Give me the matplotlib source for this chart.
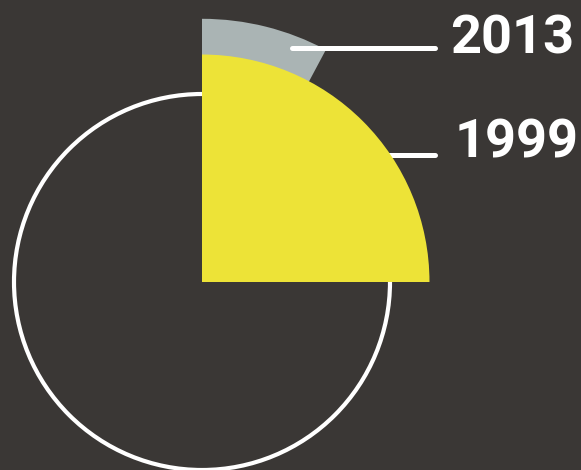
import matplotlib
matplotlib.use("Agg")
import matplotlib.pyplot as plt
from matplotlib.patches import Wedge, Circle

# ---- data -------------------------------------------------
years = ["2013", "1999"]
share_pct = [7.8, 25.0]        # angular share of the full circle
radius = [1.40, 1.21]          # relative to the reference circle
colors = ["#aab4b4", "#ede337"]
line_y = [1.245, 0.676]        # leader line heights
line_x0 = [0.479, 0.9]         # where the leader lines begin
text_x = [1.318, 1.345]
text_base = [1.218, 0.660]

BG = "#3a3735"
W, H = 581, 470
CX, CY, R_PX = 202, 282, 188   # circle centre / radius in pixels

fig = plt.figure(figsize=(W / 100, H / 100), dpi=100, facecolor=BG)
ax = fig.add_axes([0, 0, 1, 1])
ax.set_facecolor(BG)
ax.set_xlim(-CX / R_PX, (W - CX) / R_PX)
ax.set_ylim(-(H - CY) / R_PX, CY / R_PX)
ax.set_aspect("equal")
ax.axis("off")

# reference circle (whole)
ax.add_patch(Circle((0, 0), 1.0, fill=False, edgecolor="white", linewidth=3.0, zorder=1))

# wedges
for i, (s, r, c) in enumerate(zip(share_pct, radius, colors)):
    ax.add_patch(Wedge((0, 0), r, 90 - s * 3.6, 90, facecolor=c,
                       edgecolor="none", zorder=3 + i))

# leader lines + labels (2013 line sits over the grey wedge, 1999 under yellow)
for i, yr in enumerate(years):
    ax.plot([line_x0[i], 1.239], [line_y[i], line_y[i]], color="white",
            linewidth=3.6, solid_capstyle="round", zorder=5 if i == 0 else 3.5)
    ax.text(text_x[i], text_base[i], yr, color="white",
            fontsize=39, fontweight="bold", family="Roboto",
            ha="left", va="baseline", zorder=6)

fig.savefig("out.png", dpi=100, facecolor=BG)
